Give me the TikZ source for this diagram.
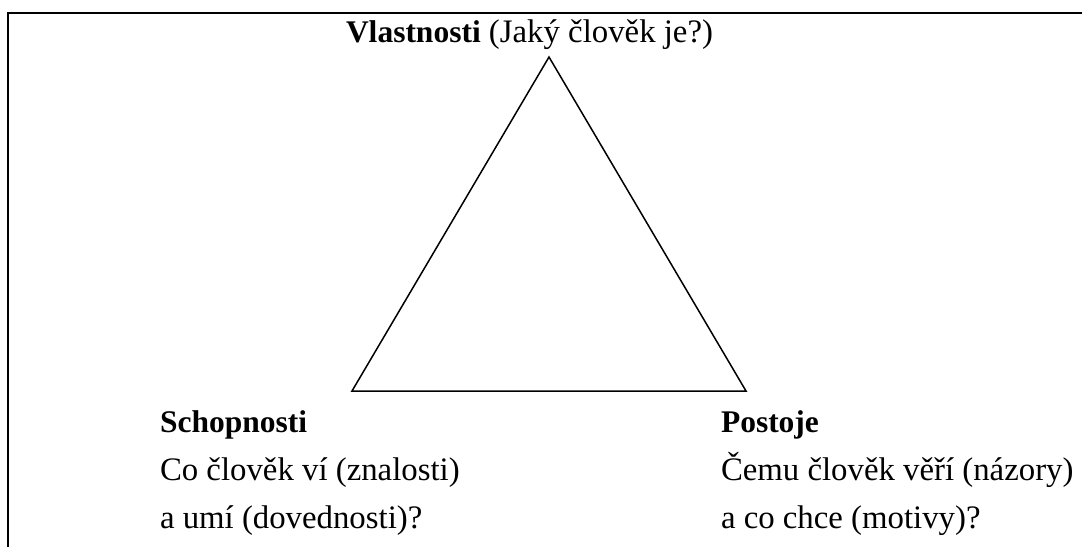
\documentclass[tikz,border=0pt]{standalone}
\usepackage{fontspec}
\setmainfont{Liberation Serif}
\newcommand{\bfpart}[1]{{\fontsize{31.5}{36}\selectfont\bfseries #1}}
\begin{document}
\begin{tikzpicture}[x=1pt,y=-1pt,
  lbl/.style={anchor=base west,inner sep=0pt,outer sep=0pt,font=\fontsize{32.8}{38}\selectfont},
  frame/.style={line width=2pt},
  tri/.style={line width=1.5pt,line join=miter}]
\useasboundingbox (0,0) rectangle (1082,547);
\draw[frame] (8,547) -- (8,13) -- (1082,13);
\coordinate (A) at (549,57);
\coordinate (B) at (352,391);
\coordinate (C) at (746,391);
\draw[tri] (A) -- (B) -- (C) -- cycle;
\node[lbl] (v) at (346,42) {\bfpart{Vlastnosti} (Jaký člověk je?)};
\node[lbl] (s1) at (160,432) {\bfpart{Schopnosti}};
\node[lbl] (s2) at (160,480) {Co člověk ví (znalosti)};
\node[lbl] (s3) at (160,528) {a umí (dovednosti)?};
\node[lbl] (p1) at (721,432) {\bfpart{Postoje}};
\node[lbl] (p2) at (721,480) {Čemu člověk věří (názory)};
\node[lbl] (p3) at (721,528) {a co chce (motivy)?};
\end{tikzpicture}
\end{document}
